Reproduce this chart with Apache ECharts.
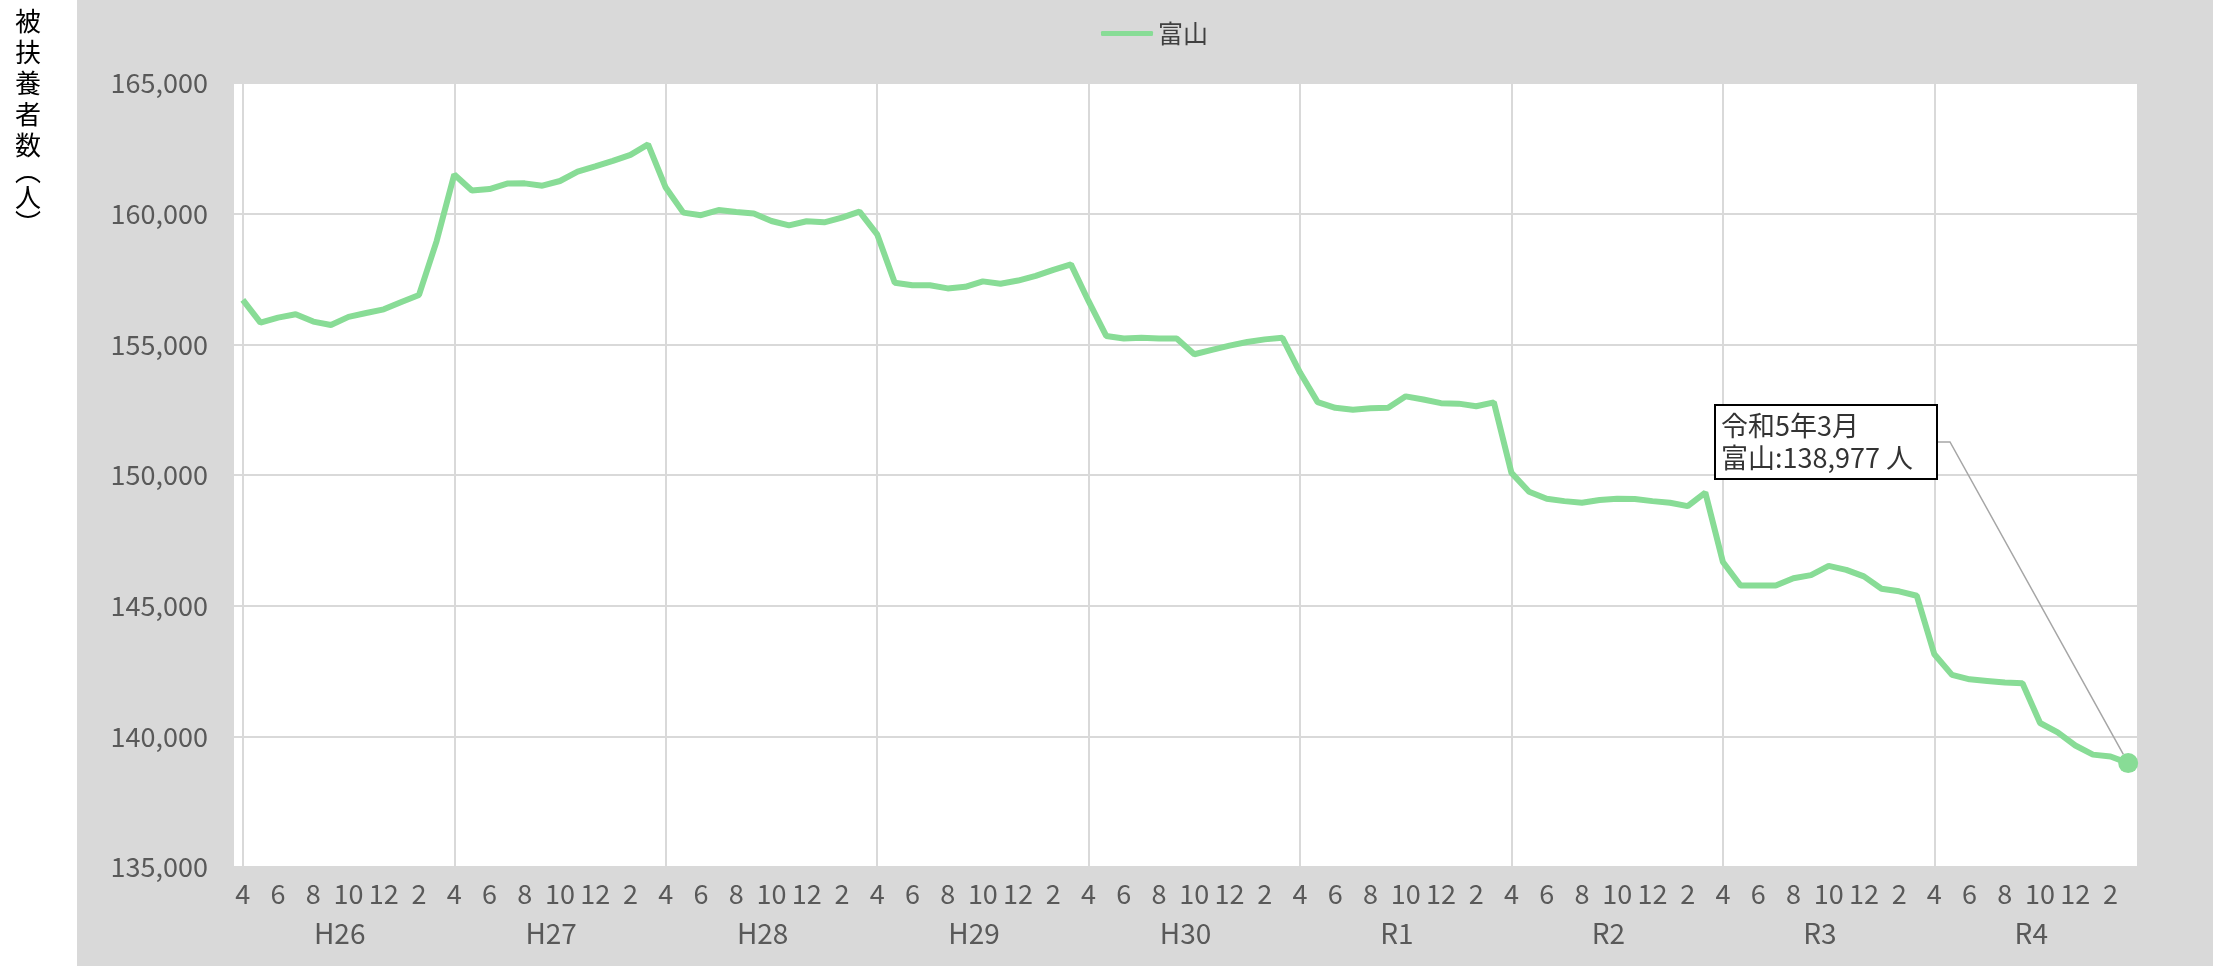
<!DOCTYPE html>
<html>
<head>
<meta charset="utf-8">
<script src="https://cdn.jsdelivr.net/npm/echarts@6/dist/echarts.min.js"></script>
<style>
  html, body { margin: 0; padding: 0; background: #fff; }
  #chart { width: 2213px; height: 966px; }
</style>
</head>
<body>
<div id="chart"></div>
<script>
// 年度 × 月 (4月始まり)
const fiscalYears = ['H26', 'H27', 'H28', 'H29', 'H30', 'R1', 'R2', 'R3', 'R4']
const monthNames = ['4', '5', '6', '7', '8', '9', '10', '11', '12', '1', '2', '3']
const categories = fiscalYears.flatMap(fy => monthNames.map(m => fy + '-' + m))

// 富山 被扶養者数（人）
const toyamaValues = [
  156700, 155830, 156020, 156150, 155870, 155740, 156050, 156200, 156340, 156620, 156890, 158950,
  161500, 160890, 160940, 161150, 161160, 161070, 161250, 161610, 161810, 162020, 162250, 162650,
  161000, 160040, 159940, 160140, 160060, 160010, 159720, 159550, 159710, 159670, 159850, 160080,
  159210, 157360, 157260, 157260, 157140, 157200, 157410, 157320, 157440, 157620, 157850, 158060,
  156650, 155320, 155220, 155250, 155220, 155220, 154620, 154790, 154950, 155090, 155190, 155250,
  153920, 152790, 152570, 152500, 152550, 152570, 153010, 152890, 152750, 152730, 152630, 152780,
  150080, 149360, 149090, 149000, 148940, 149040, 149090, 149080, 149000, 148940, 148810, 149330,
  146670, 145770, 145770, 145770, 146050, 146170, 146520, 146370, 146120, 145650, 145550, 145380,
  143140, 142350, 142180, 142120, 142060, 142030, 140510, 140150, 139650, 139300, 139230, 138977
]

const seriesName = '富山'
const calloutTitle = '令和5年3月'
const yAxisTitle = ['被', '扶', '養', '者', '数', '︵', '人', '︶']

const lineColor = '#88dc96'
const gridColor = '#d9d9d9'
const labelColor = '#595959'
const fontFamily = '"Noto Sans CJK JP", "Noto Sans", sans-serif'

const lastIdx = toyamaValues.length - 1
const seriesData = toyamaValues.map((v, i) => {
  if (i !== lastIdx) return v
  return {
    value: v,
    symbol: 'circle',
    symbolSize: 20,
    label: {
      show: true,
      formatter: p => calloutTitle + '\n' + seriesName + ':' + p.value.toLocaleString('en-US') + ' 人',
      color: '#333',
      fontSize: 27,
      lineHeight: 32,
      width: 210,
      align: 'left',
      backgroundColor: '#fff',
      borderColor: '#000',
      borderWidth: 2,
      padding: [4, 5, 4, 5]
    },
    labelLine: {
      show: true,
      length2: 12,
      lineStyle: { color: '#a6a6a6', width: 1.5 }
    }
  }
})

const chart = echarts.init(document.getElementById('chart'))

const titleRich = {
  c: { fontSize: 26, lineHeight: 31, color: '#000', fontFamily: fontFamily },
  p: { fontSize: 26, lineHeight: 21, color: '#000', fontFamily: fontFamily }
}
const titleText = yAxisTitle.map(ch => (ch === '︵' || ch === '︶' ? '{p|' : '{c|') + ch + '}').join('\n')

const option = {
  animation: false,
  backgroundColor: '#fff',
  textStyle: { fontFamily: fontFamily },
  graphic: [
    {
      type: 'rect',
      left: 77,
      top: 0,
      z: -10,
      shape: { width: 2213 - 77, height: 966 },
      style: { fill: '#d9d9d9' },
      silent: true
    },
    {
      type: 'text',
      left: 15,
      top: 8,
      style: { text: titleText, rich: titleRich }
    }
  ],
  legend: {
    left: 1096,
    top: 16,
    itemWidth: 52,
    itemHeight: 5,
    itemGap: 8,
    icon: 'roundRect',
    textStyle: { color: '#404040', fontSize: 25, fontFamily: fontFamily },
    data: [seriesName]
  },
  grid: {
    left: 234,
    right: 76,
    top: 83,
    bottom: 99,
    show: true,
    backgroundColor: '#fff',
    borderWidth: 0,
    containLabel: false
  },
  xAxis: [
    {
      type: 'category',
      data: categories,
      boundaryGap: true,
      axisLine: { show: false },
      axisTick: { show: false },
      axisLabel: {
        interval: i => i % 2 === 0,
        formatter: v => v.split('-')[1],
        color: labelColor,
        fontSize: 27,
        margin: 13,
        fontFamily: fontFamily
      },
      splitLine: {
        show: true,
        alignWithLabel: true,
        interval: i => i % 12 === 0,
        lineStyle: { color: gridColor, width: 2 }
      }
    },
    {
      type: 'category',
      data: fiscalYears,
      position: 'bottom',
      boundaryGap: true,
      axisLine: { show: false },
      axisTick: { show: false },
      splitLine: { show: false },
      axisLabel: {
        interval: 0,
        color: labelColor,
        fontSize: 28,
        margin: 52,
        fontFamily: fontFamily
      }
    }
  ],
  yAxis: {
    type: 'value',
    min: 135000,
    max: 165000,
    interval: 5000,
    axisLine: { show: false },
    axisTick: { show: false },
    axisLabel: {
      formatter: v => v.toLocaleString('en-US'),
      color: labelColor,
      fontSize: 27,
      margin: 26,
      fontFamily: fontFamily
    },
    splitLine: { lineStyle: { color: gridColor, width: 2 } }
  },
  series: [
    {
      name: seriesName,
      type: 'line',
      data: seriesData,
      symbol: 'none',
      showSymbol: true,
      showAllSymbol: true,
      color: lineColor,
      lineStyle: { color: lineColor, width: 6 },
      itemStyle: { color: lineColor },
      emphasis: { disabled: true },
      labelLayout: { x: 1716, y: 406, align: 'left', verticalAlign: 'top' }
    }
  ]
}

chart.setOption(option)
</script>
</body>
</html>
